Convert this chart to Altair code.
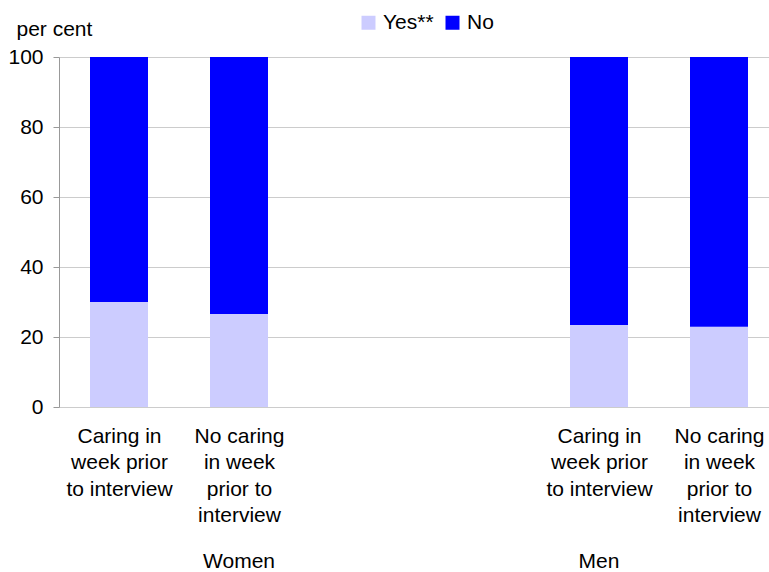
import altair as alt
import pandas as pd

# ---- data ----
groups = ["Women", "Women", "Men", "Men"]
category_lines = [
    ["Caring in", "week prior", "to interview"],
    ["No caring", "in week", "prior to", "interview"],
    ["Caring in", "week prior", "to interview"],
    ["No caring", "in week", "prior to", "interview"],
]
slots = [0.5, 1.5, 4.5, 5.5]          # category slot index on the x axis
yes_values = [30.0, 26.6, 23.4, 22.9]
no_values = [70.0, 73.4, 76.6, 77.1]
series = ["Yes**", "No"]
series_colors = ["#CCCCFF", "#0000FF"]
group_names = ["Women", "Men"]
group_slots = [1.5, 4.5]

rows = []
for g, s, yv, nv in zip(groups, slots, yes_values, no_values):
    rows.append({"group": g, "slot": s, "series": "Yes**", "value": yv, "ord": 0})
    rows.append({"group": g, "slot": s, "series": "No", "value": nv, "ord": 1})
df = pd.DataFrame(rows)
gdf = pd.DataFrame({"name": group_names, "slot": group_slots})

# label expression for multi-line category labels
parts = []
for s, lines in zip(slots, category_lines):
    arr = "[" + ",".join("'" + l + "'" for l in lines) + "]"
    parts.append(f"datum.value == {s} ? {arr}")
label_expr = " : ".join(parts) + " : ''"

FONT = "Liberation Sans"
W, H = 710, 350
xscale = alt.Scale(domain=[0, W / 120], nice=False, zero=False, padding=0)

bars = alt.Chart(df).mark_bar(size=58).encode(
    x=alt.X("slot:Q", scale=xscale,
            axis=alt.Axis(values=slots, labelExpr=label_expr, title=None,
                          domain=False, ticks=False, grid=False,
                          labelFontSize=21, labelLineHeight=26.5,
                          labelBaseline="top", labelAlign="center",
                          labelPadding=18, labelOverlap=False,
                          labelFlush=False, labelBound=False,
                          labelColor="#000000")),
    y=alt.Y("value:Q", stack="zero",
            scale=alt.Scale(domain=[0, 100], nice=False),
            axis=alt.Axis(values=[0, 20, 40, 60, 80, 100], title="per cent",
                          grid=True, gridColor="#cccccc",
                          domainColor="#999999", tickColor="#999999",
                          tickSize=6, labelPadding=10, labelFontSize=21,
                          labelColor="#000000",
                          titleAngle=0, titleAlign="left", titleX=-43,
                          titleY=-22, titleBaseline="alphabetic",
                          titleFontSize=21, titleFontWeight="normal",
                          titleColor="#000000")),
    color=alt.Color("series:N",
                    scale=alt.Scale(domain=series, range=series_colors),
                    legend=alt.Legend(orient="none", legendX=299, legendY=-45,
                                      direction="horizontal", title=None,
                                      symbolType="square", symbolSize=196,
                                      symbolStrokeWidth=0, labelFontSize=21,
                                      labelOffset=4, columnPadding=8,
                                      padding=0, labelColor="#000000")),
    order=alt.Order("ord:Q"),
)

group_text = alt.Chart(gdf).mark_text(fontSize=21, baseline="alphabetic",
                                      align="center", color="#000000").encode(
    x=alt.X("slot:Q", scale=xscale),
    y=alt.value(511),
    text="name:N",
)

chart = alt.layer(bars, group_text).properties(
    width=W, height=H,
    autosize=alt.AutoSizeParams(type="none"),
    padding={"left": 59, "top": 57, "right": 0, "bottom": 165},
).configure(font=FONT).configure_view(stroke=None)

chart.save("out.html", embed_options={"renderer": "svg", "actions": False})
